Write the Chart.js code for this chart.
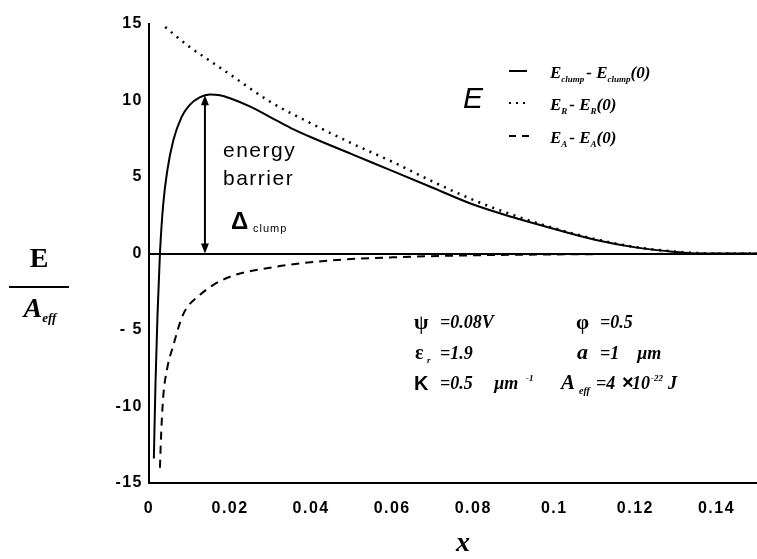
<!DOCTYPE html>
<html><head><meta charset="utf-8">
<script src="https://cdn.jsdelivr.net/npm/chart.js@4/dist/chart.umd.min.js"></script>
<style>html,body{margin:0;padding:0;background:#fff}</style>
</head><body>
<canvas id="c" width="757" height="559"></canvas>
<script>
// ---- data ----
const clumpX = [0.0012,0.0016,0.0021,0.0027,0.0035,0.0045,0.006,0.008,0.010,0.0125,0.015,0.0175,0.02,0.025,0.03,0.035,0.04,0.05,0.06,0.07,0.08,0.09,0.10,0.11,0.12,0.13,0.137,0.15];
const clumpY = [-13.4,-8.5,-4.0,0,3.2,5.4,7.4,8.9,9.7,10.2,10.4,10.35,10.15,9.6,8.9,8.2,7.6,6.5,5.4,4.3,3.2,2.35,1.6,0.9,0.4,0.1,0.0,0.0];
const repX = [0.004,0.01,0.015,0.02,0.03,0.04,0.05,0.06,0.07,0.08,0.09,0.10,0.11,0.12,0.13,0.14,0.15];
const repY = [14.8,13.5,12.6,11.7,9.9,8.5,7.2,6.0,4.7,3.5,2.5,1.65,0.95,0.42,0.12,0.0,0.0];
const attX = [0.0027,0.003,0.0035,0.0045,0.006,0.0084,0.0126,0.0192,0.0306,0.045,0.06,0.08,0.10,0.12,0.15];
const attY = [-14.0,-11.8,-9.4,-7.5,-6.0,-4.0,-2.7,-1.6,-0.9,-0.45,-0.25,-0.12,-0.06,-0.03,-0.01];
const xTicks = [0,0.02,0.04,0.06,0.08,0.10,0.12,0.14];
const xTickLabels = ["0","0.02","0.04","0.06","0.08","0.1","0.12","0.14"];
const yTicks = [-15,-10,-5,0,5,10,15];
const yTickLabels = ["-15","-10","- 5","0","5","10","15"];
const barrierX = 0.0138;   // position of the energy-barrier arrow
const barrierTop = 10.35;  // peak of E_clump

const pts = (xs, ys) => xs.map((x, i) => ({x, y: ys[i]}));
const tickFont = {family: '"Liberation Sans", Arial, sans-serif', size: 16, weight: 'bold'};

function rich(ctx, x, y, segs) {
  let cx = x;
  for (const s of segs) {
    ctx.font = s.f;
    ctx.fillText(s.t, cx, y + (s.dy || 0));
    cx += ctx.measureText(s.t).width + (s.sp || 0);
  }
  return cx;
}
function richWidth(ctx, segs) {
  let w = 0;
  for (const s of segs) { ctx.font = s.f; w += ctx.measureText(s.t).width + (s.sp || 0); }
  return w;
}

const SER = '"Liberation Serif", "Times New Roman", serif';
const SANS = '"Liberation Sans", Arial, sans-serif';
const LB = 'bold italic 17px ' + SER;
const LS = 'bold italic 9px ' + SER;
const PB = 'bold italic 18px ' + SER;

const annot = {
  id: 'annot',
  beforeInit(chart) { chart.ctx.letterSpacing = '1.5px'; },
  beforeDraw(chart) {
    const c = chart.ctx;
    c.save(); c.fillStyle = '#fff'; c.fillRect(0, 0, chart.width, chart.height); c.restore();
    c.letterSpacing = '1.5px';
  },
  afterDraw(chart) {
    const c = chart.ctx, xs = chart.scales.x, ys = chart.scales.y;
    c.save();
    c.letterSpacing = '0px';
    c.fillStyle = '#000'; c.strokeStyle = '#000';
    c.textBaseline = 'alphabetic'; c.textAlign = 'left';

    // energy barrier arrow
    const ax = xs.getPixelForValue(barrierX);
    const y0 = ys.getPixelForValue(0), y1 = ys.getPixelForValue(barrierTop);
    c.lineWidth = 2;
    c.beginPath(); c.moveTo(ax, y0 - 6); c.lineTo(ax, y1 + 6); c.stroke();
    c.beginPath(); c.moveTo(ax, y1); c.lineTo(ax - 4, y1 + 10); c.lineTo(ax + 4, y1 + 10); c.closePath(); c.fill();
    c.beginPath(); c.moveTo(ax, y0); c.lineTo(ax - 4, y0 - 10); c.lineTo(ax + 4, y0 - 10); c.closePath(); c.fill();

    c.letterSpacing = '1.5px';
    c.font = '21px ' + SANS;
    c.fillText('energy', 223, 157);
    c.fillText('barrier', 223, 185);
    c.letterSpacing = '0px';
    c.font = 'bold 24px ' + SANS;
    c.fillText('\u0394', 231, 229);
    c.letterSpacing = '1px';
    c.font = '11px ' + SANS;
    c.fillText('clump', 253, 232);
    c.letterSpacing = '0px';

    // legend
    c.font = 'italic 30px ' + SANS;
    c.fillText('E', 463, 108);
    c.lineWidth = 2;
    c.setLineDash([]);
    c.beginPath(); c.moveTo(509, 71); c.lineTo(527, 71); c.stroke();
    c.setLineDash([2, 5]);
    c.beginPath(); c.moveTo(509, 103); c.lineTo(529, 103); c.stroke();
    c.setLineDash([7, 6]);
    c.beginPath(); c.moveTo(509, 136); c.lineTo(529, 136); c.stroke();
    c.setLineDash([]);
    const rows = [['clump', 78], ['R', 110], ['A', 143]];
    for (const [s, yb] of rows) {
      rich(c, 550, yb, [
        {t: 'E', f: LB}, {t: s, f: LS, dy: 4, sp: 2},
        {t: '- ', f: LB},
        {t: 'E', f: LB}, {t: s, f: LS, dy: 4},
        {t: '(0)', f: LB}
      ]);
    }

    // parameters
    c.font = 'bold 21px ' + SER; c.fillText('\u03C8', 414, 329);
    c.font = PB; c.fillText('=0.08V', 440, 328);
    c.font = 'bold 21px ' + SER; c.fillText('\u03C6', 576, 329);
    c.font = PB; c.fillText('=0.5', 600, 328);

    c.font = 'bold 20px ' + SER; c.fillText('\u03B5', 415, 359);
    c.font = 'bold italic 9px ' + SER; c.fillText('r', 427, 363);
    c.font = PB; c.fillText('=1.9', 440, 359);
    c.font = 'bold italic 22px ' + SER; c.fillText('a', 577, 359);
    c.font = PB; c.fillText('=1', 600, 359); c.fillText('\u00B5m', 637, 359);

    c.font = 'bold 20px ' + SANS; c.fillText('K', 414, 390);
    c.font = PB; c.fillText('=0.5', 440, 389); c.fillText('\u00B5m', 494, 389);
    c.font = 'bold italic 9px ' + SER; c.fillText('-1', 526, 381);
    c.font = 'bold italic 21px ' + SER; c.fillText('A', 561, 389);
    c.font = 'bold italic 10px ' + SER; c.fillText('eff', 579, 394);
    c.font = PB; c.fillText('=4', 596, 389);
    c.font = 'bold 20px ' + SANS; c.fillText('\u00D7', 622, 389);
    c.font = PB; c.fillText('10', 632, 389);
    c.font = 'bold italic 9px ' + SER; c.fillText('-22', 651, 381);
    c.font = PB; c.fillText('J', 668, 389);

    // y axis title (fraction)
    c.textAlign = 'center';
    c.font = 'bold 28px ' + SER; c.fillText('E', 39, 267);
    c.fillRect(9, 286, 60, 2);
    c.textAlign = 'left';
    const aSegs = [{t: 'A', f: 'bold italic 28px ' + SER}, {t: 'eff', f: 'bold italic 13px ' + SER, dy: 5}];
    rich(c, 40 - richWidth(c, aSegs) / 2, 317, aSegs);

    // x axis title
    c.textAlign = 'center';
    c.font = 'bold italic 28px ' + SER; c.fillText('x', 463, 551);
    c.restore();
  }
};

new Chart(document.getElementById('c'), {
  type: 'line',
  data: {
    datasets: [
      {label: 'E_clump - E_clump(0)', data: pts(clumpX, clumpY), borderColor: '#000', borderWidth: 2, pointRadius: 0, cubicInterpolationMode: 'monotone', fill: false},
      {label: 'E_R - E_R(0)', data: pts(repX, repY), borderColor: '#000', borderWidth: 2.5, borderDash: [2, 5.5], pointRadius: 0, cubicInterpolationMode: 'monotone', fill: false},
      {label: 'E_A - E_A(0)', data: pts(attX, attY), borderColor: '#000', borderWidth: 2, borderDash: [8, 6], pointRadius: 0, cubicInterpolationMode: 'monotone', fill: false}
    ]
  },
  options: {
    responsive: false, animation: false, devicePixelRatio: 1,
    layout: {padding: {top: 24, left: 0, right: 0, bottom: 0}},
    plugins: {legend: {display: false}, tooltip: {enabled: false}},
    scales: {
      x: {
        type: 'linear', min: 0, max: 0.15,
        grid: {display: false},
        border: {display: true, color: '#000', width: 2},
        ticks: {color: '#000', font: tickFont, padding: 8, maxRotation: 0,
          callback: (v) => { const i = xTicks.findIndex(t => Math.abs(t - v) < 1e-9); return i >= 0 ? xTickLabels[i] : ''; }},
        afterBuildTicks: (s) => { s.ticks = xTicks.map(v => ({value: v})); },
        afterFit: (s) => { s.height = 76; }
      },
      y: {
        type: 'linear', min: -15, max: 15,
        grid: {color: (ctx) => (ctx.tick && ctx.tick.value === 0) ? '#000' : 'rgba(0,0,0,0)', lineWidth: 2, drawTicks: false},
        border: {display: true, color: '#000', width: 2},
        ticks: {color: '#000', font: tickFont, padding: 6,
          callback: (v) => { const i = yTicks.indexOf(v); return i >= 0 ? yTickLabels[i] : ''; }},
        afterBuildTicks: (s) => { s.ticks = yTicks.map(v => ({value: v})); },
        afterFit: (s) => { s.width = 149; }
      }
    }
  },
  plugins: [annot]
});
</script>
</body></html>
